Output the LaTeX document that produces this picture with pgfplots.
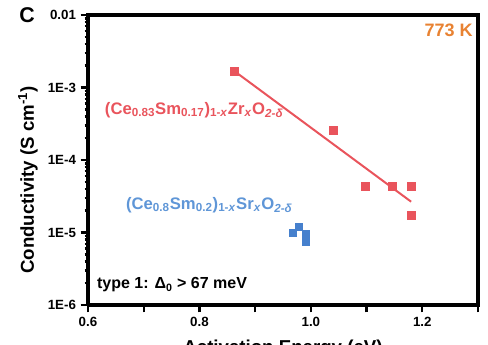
\documentclass[border=0pt]{standalone}
\usepackage{pgfplots}
\pgfplotsset{compat=1.18}
\usepackage{fontspec}
\setmainfont{Liberation Sans}
\usetikzlibrary{calc}
\definecolor{zr}{RGB}{233,84,92}
\definecolor{sr}{RGB}{70,128,205}
\definecolor{srtxt}{RGB}{95,150,215}
\definecolor{ktxt}{RGB}{232,130,50}
\begin{document}
\begin{tikzpicture}
\begin{axis}[
  scale only axis, width=292.5pt, height=217.5pt,
  xmin=0.6, xmax=1.3, ymode=log, ymin=1e-6, ymax=1e-2,
  axis x line*=bottom, axis y line*=left,
  axis line style={line width=2.6pt, black},
  xtick={0.6,0.8,1.0,1.2}, xticklabels={0.6,0.8,1.0,1.2},
  extra x ticks={0.7,0.9,1.1,1.3}, extra x tick labels={},
  ytick={1e-6,1e-5,1e-4,1e-3,1e-2}, yticklabels={1E-6,1E-5,1E-4,1E-3,0.01},
  tick align=outside,
  major tick length=5.5pt, minor tick length=2.5pt,
  tick style={line width=1.8pt, black},
  /pgf/number format/assume math mode=true,
  ticklabel style={font=\fontsize{10}{12}\selectfont\bfseries},
  xlabel={Activation Energy (eV)},
  ylabel={Conductivity (S cm\textsuperscript{-1})},
  label style={font=\fontsize{14}{16}\selectfont\bfseries},
  xlabel style={at={(axis description cs:0.5,-0.152)}, anchor=center},
  ylabel style={at={(axis description cs:-0.154,0.431)}, anchor=center},
  clip=false,
]
\coordinate (bl) at (rel axis cs:0,0);
\coordinate (tr) at (rel axis cs:1,1);
\draw[line width=2.6pt, black, line cap=rect] (rel axis cs:0,1) -- (rel axis cs:1,1) -- (rel axis cs:1,0);
\addplot[zr, line width=1.5pt, no marks] coordinates {(0.862,1.7e-3) (1.18,2.66e-5)};
\addplot[only marks, mark=square*, mark size=3pt, color=zr] coordinates {
  (0.862,1.7e-3) (1.04,2.6e-4) (1.097,4.4e-5) (1.147,4.4e-5) (1.18,4.4e-5) (1.18,1.74e-5)};
\addplot[only marks, mark=square*, mark size=2.8pt, color=sr] coordinates {
  (0.968,1.0e-5) (0.978,1.2e-5) (0.991,9.4e-6) (0.991,7.5e-6)};
\node[anchor=west, text=zr, font=\fontsize{12.5}{14}\selectfont\bfseries] at (axis cs:0.622,4.9e-4)
  {(Ce\textsubscript{0.83}Sm\textsubscript{0.17})\textsubscript{1-\textit{x}}Zr\textsubscript{\textit{x}}O\textsubscript{\textit{2-δ}}};
\node[anchor=west, text=srtxt, font=\fontsize{12.5}{14}\selectfont\bfseries] at (axis cs:0.66,2.4e-5)
  {(Ce\textsubscript{0.8}Sm\textsubscript{0.2})\textsubscript{1-\textit{x}}Sr\textsubscript{\textit{x}}O\textsubscript{\textit{2-δ}}};
\node[anchor=west, font=\fontsize{12}{14}\selectfont\bfseries] at (axis cs:0.608,1.9e-6)
  {type 1: Δ\textsubscript{0} > 67 meV};
\node[anchor=east, text=ktxt, font=\fontsize{13.5}{15}\selectfont\bfseries] at (axis cs:1.299,6.2e-3) {773 K};
\end{axis}
\node[font=\fontsize{16}{18}\selectfont\bfseries] at ($(bl|-tr)+(-45.75pt,0pt)$) {C};
\pgfresetboundingbox
\useasboundingbox ($(bl)+(-66pt,-29.25pt)$) rectangle ($(tr)+(7.5pt,11.25pt)$);
\end{tikzpicture}
\end{document}
